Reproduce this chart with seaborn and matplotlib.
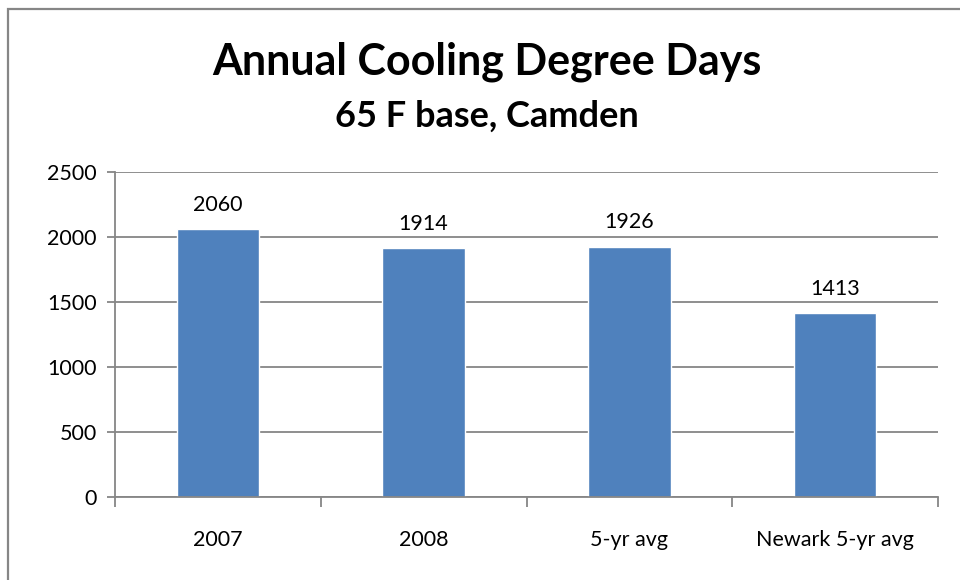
import numpy as np
import pandas as pd
import matplotlib
matplotlib.use("Agg")
import matplotlib.pyplot as plt
from matplotlib.patches import Rectangle
from matplotlib.ticker import FixedLocator
import seaborn as sns

categories = ["2007", "2008", "5-yr avg", "Newark 5-yr avg"]
cdd_values = [2060, 1914, 1926, 1413]
y_ticks = [0, 500, 1000, 1500, 2000, 2500]

sns.set_style("white", {"text.color": "black", "xtick.color": "black",
                        "ytick.color": "black"})
plt.rcParams['font.family'] = ['Lato', 'DejaVu Sans']

df = pd.DataFrame({"period": categories, "cdd": cdd_values})

fig = plt.figure(figsize=(9.6, 5.8), dpi=100)
ax = fig.add_axes([115 / 960, 1 - 497 / 580, (938 - 115) / 960, (497 - 172) / 580])

sns.barplot(data=df, x="period", y="cdd", color="#4F81BD", saturation=1,
            width=0.4, ax=ax)

ax.set_ylim(0, 2500)
ax.set_xlim(-0.5, len(categories) - 0.5)
ax.set_yticks(y_ticks)
ax.set_yticklabels([str(t) for t in y_ticks])
ax.yaxis.grid(True, color="#868686", linewidth=1.3)
ax.set_axisbelow(True)

for s in ["top", "right"]:
    ax.spines[s].set_visible(False)
for s in ["left", "bottom"]:
    ax.spines[s].set_color("#868686")
    ax.spines[s].set_linewidth(1.3)

ax.tick_params(axis="y", left=True, length=6, width=1.3, color="#868686",
               labelcolor="black", labelsize=15.5, pad=7)
ax.tick_params(axis="x", bottom=False, labelcolor="black", labelsize=15.5,
               pad=20)
ax.xaxis.set_minor_locator(FixedLocator(np.arange(-0.5, len(categories), 1.0)))
ax.tick_params(axis="x", which="minor", bottom=True, length=7, width=1.3,
               color="#868686")
ax.set_xlabel("")
ax.set_ylabel("")

for i, v in enumerate(cdd_values):
    ax.annotate(str(v), (i, v), xytext=(0, 10.5), textcoords="offset points",
                ha="center", va="bottom", fontsize=15.5, color="black")

fig.text(487 / 960, 1 - 75 / 580, "Annual Cooling Degree Days", ha="center",
         va="baseline", fontsize=31, fontweight="bold", color="black")
fig.text(487 / 960, 1 - 127 / 580, "65 F base, Camden", ha="center",
         va="baseline", fontsize=26, fontweight="bold", color="black")

fig.patches.append(Rectangle((7.5 / 960, -0.05), 1.1, 1 - 8.5 / 580 + 0.05,
                             transform=fig.transFigure, fill=False,
                             edgecolor="#868686", linewidth=1.6))

fig.savefig("out.png", dpi=100)
